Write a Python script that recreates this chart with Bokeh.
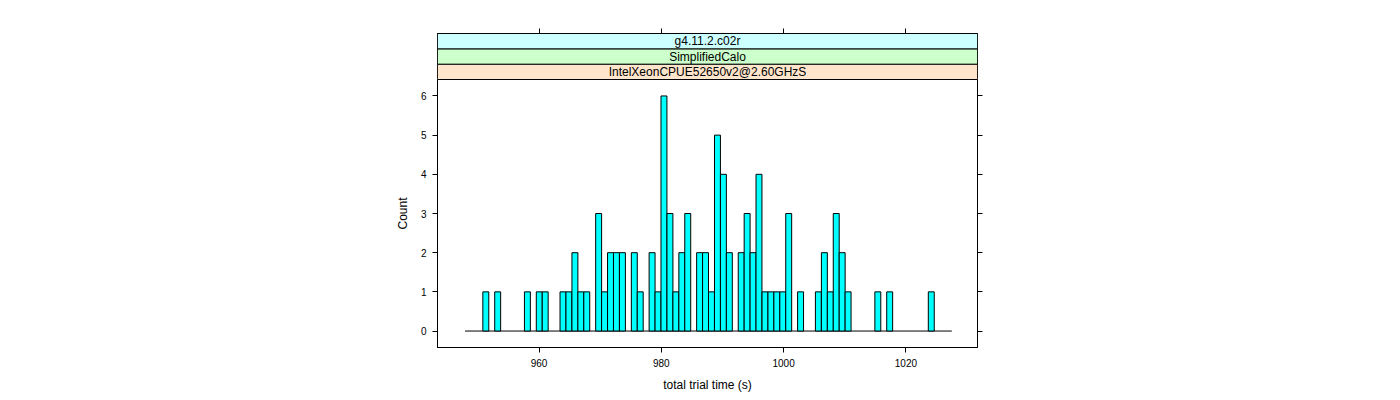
from bokeh.plotting import figure
from bokeh.layouts import column
from bokeh.models import ColumnDataSource, FixedTicker, LinearAxis, Range1d
from bokeh.embed import file_html
from bokeh.resources import INLINE
from bokeh.core.properties import value

# ---- data ----
bin_centers = [951.30, 953.24, 958.10, 960.04, 961.01, 963.92, 964.89, 965.87, 966.84, 967.81,
               969.75, 970.72, 971.69, 972.66, 973.64, 975.58, 976.55, 978.49, 979.46, 980.43,
               981.41, 982.38, 983.35, 984.32, 986.26, 987.23, 988.20, 989.18, 990.15, 991.12,
               993.06, 994.03, 995.00, 995.97, 996.95, 997.92, 998.89, 999.86, 1000.83, 1002.77,
               1005.68, 1006.66, 1007.63, 1008.60, 1009.57, 1010.54, 1015.40, 1017.34, 1024.14]
counts = [1, 1, 1, 1, 1, 1, 1, 2, 1, 1,
          3, 1, 2, 2, 2, 2, 1, 2, 1, 6,
          3, 1, 2, 3, 2, 2, 1, 5, 4, 2,
          2, 3, 2, 4, 1, 1, 1, 1, 3, 1,
          1, 2, 1, 3, 2, 1, 1, 1, 1]
bin_width = 0.971
baseline_x = [947.9, 1027.5]
baseline_y = [0, 0]
strip_labels = ["IntelXeonCPUE52650v2@2.60GHzS", "SimplifiedCalo", "g4.11.2.c02r"]
strip_colors = ["#ffe5cc", "#ccffcc", "#ccffff"]
x_ticks = [960, 980, 1000, 1020]
y_ticks = [0, 1, 2, 3, 4, 5, 6]
x_label = "total trial time (s)"
y_label = "Count"

FONT = "Liberation Sans"
W = 1392
LEFT = 437
RIGHT = W - 977

xr = Range1d(943.4, 1031.7)

# ---- strip figure ----
sp = figure(width=W, height=79, x_range=xr, y_range=Range1d(0, 3),
            output_backend="svg", toolbar_location=None,
            x_axis_location="above", y_axis_location=None,
            min_border_left=LEFT, min_border_right=RIGHT,
            min_border_top=33, min_border_bottom=0)
sp.xgrid.visible = False
sp.ygrid.visible = False
sp.outline_line_color = "black"
sp.background_fill_color = "white"
sp.border_fill_color = "white"
ax = sp.xaxis[0]
ax.ticker = FixedTicker(ticks=x_ticks)
ax.major_label_overrides = {t: "" for t in x_ticks}
ax.major_label_standoff = 0
ax.major_tick_out = 5
ax.major_tick_in = 0
ax.minor_tick_line_color = None
ax.axis_line_color = "black"
ax.major_tick_line_color = "black"

n = len(strip_labels)
strip_src = ColumnDataSource(dict(
    left=[xr.start] * n, right=[xr.end] * n,
    bottom=[i for i in range(n)], top=[i + 1 for i in range(n)],
    color=strip_colors, label=strip_labels,
    xc=[(xr.start + xr.end) / 2] * n, yc=[i + 0.5 for i in range(n)]))
sp.quad(left="left", right="right", bottom="bottom", top="top", source=strip_src,
        fill_color="color", line_color="black", line_width=1)
sp.text(x="xc", y="yc", text="label", source=strip_src, text_align="center",
        text_baseline="middle", text_font=value(FONT), text_font_size="12px",
        text_color="black")

# ---- main panel ----
p = figure(width=W, height=317, x_range=xr, y_range=Range1d(-0.42, 6.42),
           output_backend="svg", toolbar_location=None,
           min_border_left=LEFT, min_border_right=RIGHT,
           min_border_top=0, min_border_bottom=49)
p.xgrid.visible = False
p.ygrid.visible = False
p.outline_line_color = "black"
p.background_fill_color = "white"
p.border_fill_color = "white"

for a, ticks in ((p.xaxis[0], x_ticks), (p.yaxis[0], y_ticks)):
    a.ticker = FixedTicker(ticks=ticks)
    a.major_tick_out = 5
    a.major_tick_in = 0
    a.minor_tick_line_color = None
    a.axis_line_color = "black"
    a.major_tick_line_color = "black"
    a.major_label_text_font = FONT
    a.major_label_text_font_size = "10px"
    a.major_label_text_color = "black"
    a.axis_label_text_font = FONT
    a.axis_label_text_font_size = "12px"
    a.axis_label_text_font_style = "normal"
    a.axis_label_text_color = "black"

p.xaxis[0].axis_label = x_label
p.xaxis[0].major_label_standoff = 6
p.xaxis[0].axis_label_standoff = 8
p.yaxis[0].axis_label = y_label
p.yaxis[0].major_label_standoff = 6
p.yaxis[0].axis_label_standoff = 8

rax = LinearAxis(ticker=FixedTicker(ticks=y_ticks),
                 major_label_overrides={t: "" for t in y_ticks},
                 major_tick_out=5, major_tick_in=0, minor_tick_line_color=None,
                 axis_line_color="black", major_tick_line_color="black",
                 major_label_standoff=0)
p.add_layout(rax, "right")

src = ColumnDataSource(dict(
    left=[c - bin_width / 2 for c in bin_centers],
    right=[c + bin_width / 2 for c in bin_centers],
    top=counts, bottom=[0] * len(counts)))
p.line(x=baseline_x, y=baseline_y, line_color="black", line_width=1)
p.quad(left="left", right="right", bottom="bottom", top="top", source=src,
       fill_color="#00ffff", line_color="black", line_width=1)

layout = column(sp, p, spacing=0)
open("out.html", "w").write(file_html(layout, INLINE))
